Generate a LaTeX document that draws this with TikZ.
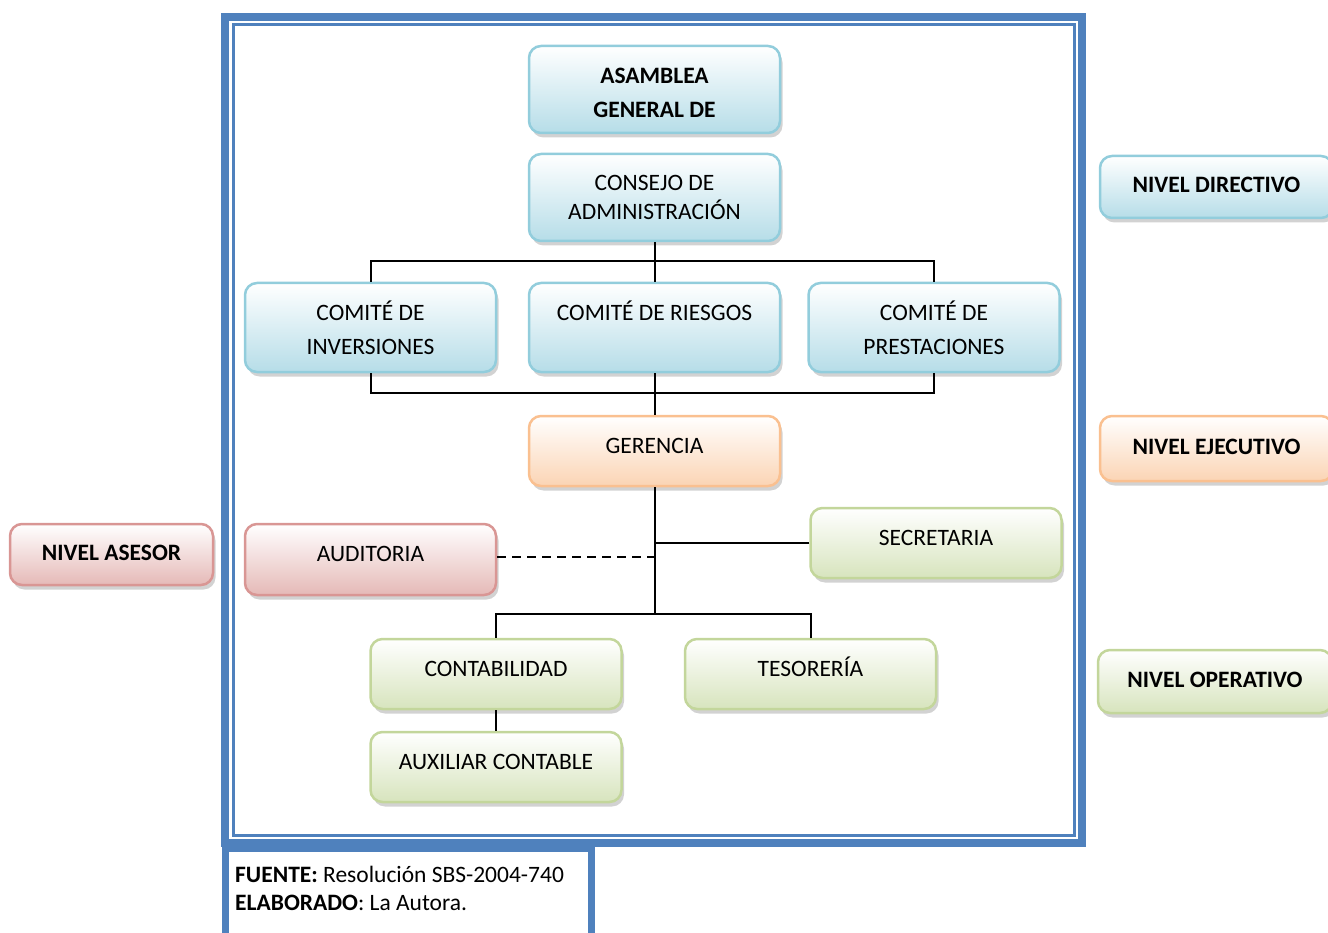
\documentclass[tikz,border=0pt]{standalone}
\usepackage{fontspec}
\setmainfont{Carlito}
\usetikzlibrary{shadows}
\definecolor{orgblue}{HTML}{B6DDE8}
\definecolor{orgblueline}{HTML}{92CDDC}
\definecolor{orgorange}{HTML}{FBD4B4}
\definecolor{orgorangeline}{HTML}{FAC090}
\definecolor{orgred}{HTML}{E5B9B7}
\definecolor{orgredline}{HTML}{D99694}
\definecolor{orggreen}{HTML}{D7E4BD}
\definecolor{orggreenline}{HTML}{C3D69B}
\definecolor{orgframe}{HTML}{4F81BD}

\begin{document}
\begin{tikzpicture}[x=1pt, y=-1pt,
        caja/.style={rounded corners=12pt, line width=2.5pt, align=center, inner sep=0pt,
            minimum width=251pt, font=\fontsize{23.5}{34}\selectfont,
            drop shadow={shadow xshift=2.5pt, shadow yshift=-4.5pt, fill=black!35}},
        una/.style={text height=16pt, text depth=12pt},
        azul/.style={caja, draw=orgblueline, top color=white, bottom color=orgblue},
        naranja/.style={caja, draw=orgorangeline, top color=white, bottom color=orgorange},
        rojo/.style={caja, draw=orgredline, top color=white, bottom color=orgred},
        verde/.style={caja, draw=orggreenline, top color=white, bottom color=orggreen},
        nivel/.style={text height=20pt, text depth=8pt, font=\fontsize{23.5}{34}\selectfont\bfseries},
        linea/.style={line width=2pt}
    ]
    \useasboundingbox (0,0) rectangle (1328,933);
    % marco
    \draw[orgframe, line width=8pt] (225,17) rectangle (1082,843);
    \draw[orgframe, line width=3pt] (233,25) rectangle (1074,835);
    \draw[orgframe, line width=7pt] (225,848) rectangle (591,960);

    % directivo
    \node[azul, minimum height=87pt, font=\fontsize{23.5}{34}\selectfont\bfseries] (asamblea) at (654.5,89.5)
         {\rule{0pt}{23pt}ASAMBLEA\\GENERAL DE};
    \node[azul, minimum height=87pt] (consejo) at (654.5,197.5) {CONSEJO DE\\[-5pt]ADMINISTRACIÓN};
    \node[azul, minimum height=89pt] (inversiones) at (370.5,327.5) {COMITÉ DE\\INVERSIONES};
    \node[azul, minimum height=89pt] (riesgos) at (654.5,327.5) {COMITÉ DE RIESGOS\\\phantom{X}};
    \node[azul, minimum height=89pt] (prestaciones) at (934,327.5) {COMITÉ DE\\PRESTACIONES};

    % ejecutivo y asesor
    \node[naranja, una, minimum height=70pt] (gerencia) at (654.5,451) {GERENCIA};
    \node[rojo, una, minimum height=71pt] (auditoria) at (370.5,559.5) {AUDITORIA};

    % operativo
    \node[verde, una, minimum height=70pt] (secretaria) at (936,543) {SECRETARIA};
    \node[verde, una, minimum height=70pt] (contabilidad) at (496,674) {CONTABILIDAD};
    \node[verde, una, minimum height=70pt] (tesoreria) at (810.5,674) {TESORERÍA};
    \node[verde, una, minimum height=70pt] (auxiliar) at (496,767) {AUXILIAR CONTABLE};

    % niveles
    \node[azul, nivel, minimum width=233pt, minimum height=62pt] (directivo) at (1216.5,187) {NIVEL DIRECTIVO};
    \node[naranja, nivel, minimum width=233pt, minimum height=65pt] (ejecutivo) at (1216.5,448.5) {NIVEL EJECUTIVO};
    \node[verde, nivel, minimum width=234pt, minimum height=63pt] (operativo) at (1215,681.5) {NIVEL OPERATIVO};
    \node[rojo, nivel, minimum width=203pt, minimum height=61pt] (asesor) at (111.5,554.5) {NIVEL ASESOR};

    % conectores
    \coordinate (bus1) at (654.5,261);
    \coordinate (bus2) at (654.5,393);
    \coordinate (bus3) at (654.5,614);
    \draw[linea] (consejo.south) -- (riesgos.north);
    \draw[linea] (inversiones.north) |- (bus1) -| (prestaciones.north);
    \draw[linea] (inversiones.south) |- (bus2) -| (prestaciones.south);
    \draw[linea] (riesgos.south) -- (gerencia.north);
    \draw[linea] (gerencia.south) -- (bus3);
    \draw[linea] (contabilidad.north) |- (bus3) -| (tesoreria.north);
    \draw[linea] (secretaria.west) -- (gerencia.south |- secretaria.west);
    \draw[linea, dash pattern=on 9pt off 6pt] ([yshift=2.5pt]auditoria.east) -- ([yshift=2.5pt]gerencia.south |- auditoria.east);
    \draw[linea] (contabilidad.south) -- (auxiliar.north);

    \node[anchor=west, align=left, inner sep=0pt, font=\fontsize{23.5}{28}\selectfont] (fuente) at (235,888)
         {\textbf{FUENTE:} Resolución SBS-2004-740\\\textbf{ELABORADO}: La Autora.};
\end{tikzpicture}
\end{document}
